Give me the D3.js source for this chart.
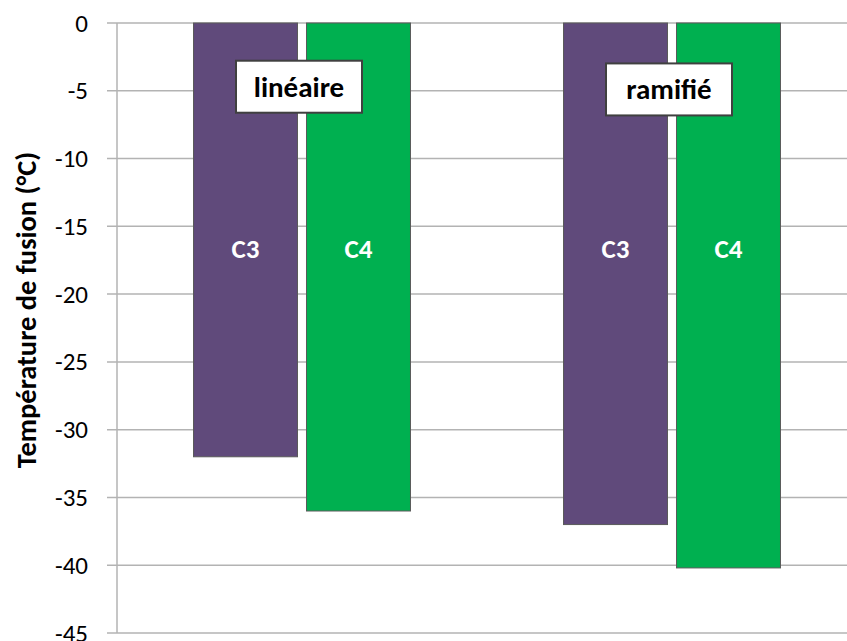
<!DOCTYPE html>
<html><head><meta charset="utf-8">
<script src="https://cdn.jsdelivr.net/npm/d3@7"></script>
<style>
body{margin:0;background:#fff;}
text{font-family:Carlito, Lato, "Open Sans", sans-serif;}
</style></head>
<body><svg id="c" width="847" height="641"></svg>
<script>
const categories = ["linéaire", "ramifié"];
const series = ["C3", "C4"];
const c3Values = [-32, -37];
const c4Values = [-36, -40.2];
const yTicks = [0, -5, -10, -15, -20, -25, -30, -35, -40, -45];
const yTitle = "Température de fusion (°C)";
const colors = {C3: "#604A7B", C4: "#00B050"};

const svg = d3.select("#c");
const mLeft = 117, mTop = 23, mBottom = 633, mRight = 857;
const y = d3.scaleLinear().domain([0, -45]).range([mTop, mBottom]);
const x0 = d3.scaleBand().domain(categories).range([mLeft, mRight]).padding(0);
const gw = x0.bandwidth();
const x1 = d3.scaleBand().domain(series).range([gw*0.2068, gw*0.7932]).paddingInner(0.0796).paddingOuter(0);

// gridlines
svg.append("g").selectAll("line").data(yTicks).join("line")
  .attr("x1", mLeft - 10).attr("x2", 847)
  .attr("y1", d => y(d)).attr("y2", d => y(d))
  .attr("stroke", "#b3b3b3").attr("stroke-width", 1.5);

// axis
const ax = svg.append("g").attr("transform", `translate(${mLeft},0)`)
  .call(d3.axisLeft(y).tickValues(yTicks).tickSize(0).tickPadding(29).tickFormat(d => String(d)));
ax.select(".domain").remove();
ax.selectAll("text").attr("font-size", 25).attr("fill", "#000");
svg.append("line").attr("x1", mLeft).attr("x2", mLeft).attr("y1", mTop).attr("y2", mBottom)
  .attr("stroke", "#b3b3b3").attr("stroke-width", 1.5);

// bars
const data = [];
categories.forEach((c, i) => {
  data.push({cat: c, s: "C3", v: c3Values[i]});
  data.push({cat: c, s: "C4", v: c4Values[i]});
});
svg.append("g").selectAll("rect").data(data).join("rect")
  .attr("x", d => x0(d.cat) + x1(d.s))
  .attr("width", x1.bandwidth())
  .attr("y", y(0))
  .attr("height", d => y(d.v) - y(0))
  .attr("fill", d => colors[d.s])
  .attr("stroke", "#5a5a5a").attr("stroke-width", 1);

// series labels inside bars
svg.append("g").selectAll("text").data(data).join("text")
  .attr("x", d => x0(d.cat) + x1(d.s) + x1.bandwidth()/2)
  .attr("y", y(-16.6))
  .attr("text-anchor", "middle").attr("dominant-baseline", "central")
  .attr("font-size", 27).attr("font-weight", "bold").attr("fill", "#fff")
  .text(d => d.s);

// category boxes
const boxes = svg.append("g").selectAll("g").data(categories).join("g")
  .attr("transform", (d, i) => `translate(${x0(d) + gw/2 - 3},${y(i === 0 ? -4.7 : -4.9)})`);
boxes.append("rect").attr("x", -63).attr("y", -26).attr("width", 126).attr("height", 52)
  .attr("fill", "#fff").attr("stroke", "#404040").attr("stroke-width", 2);
boxes.append("text").attr("text-anchor", "middle").attr("dominant-baseline", "central")
  .attr("font-size", 29).attr("font-weight", "bold").attr("fill", "#000").text(d => d);

// y title
svg.append("text").attr("transform", `translate(26,310) rotate(-90)`)
  .attr("text-anchor", "middle").attr("dominant-baseline", "central")
  .attr("font-size", 28.5).attr("font-weight", "bold").attr("fill", "#000").text(yTitle);
</script></body></html>
